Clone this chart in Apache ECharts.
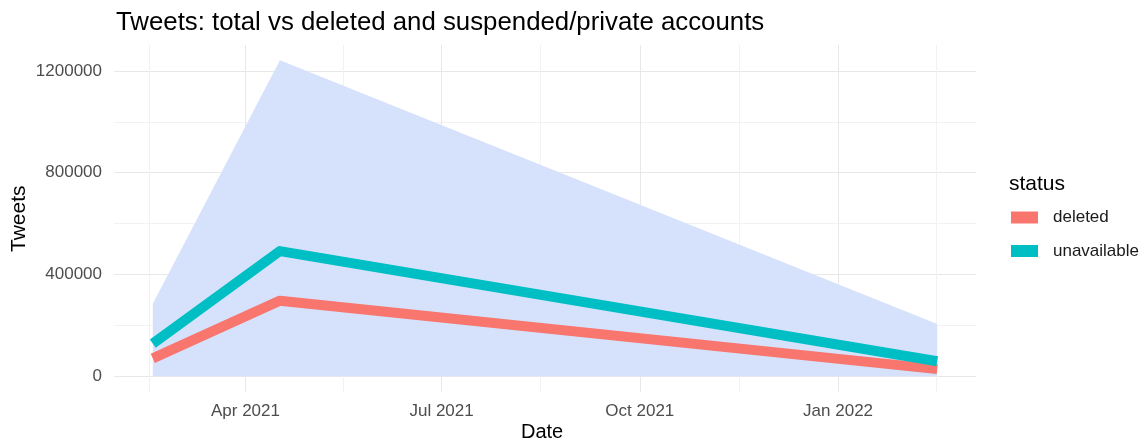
<!DOCTYPE html>
<html>
<head>
<meta charset="utf-8">
<script src="https://cdn.jsdelivr.net/npm/echarts@6/dist/echarts.min.js"></script>
<style>html,body{margin:0;padding:0;background:#fff}#c{width:1147px;height:444px}</style>
</head>
<body>
<div id="c"></div>
<script>
// ---- data ----
var dates = ['2021-02-17', '2021-04-17', '2022-02-16'];
var totalTweets = [285000, 1242000, 205000];
var deleted = [70000, 297000, 28000];
var unavailable = [128000, 492000, 59000];
var seriesNames = ['deleted', 'unavailable'];
// ---- axis ticks ----
var xMajorTicks = ['2021-04-01', '2021-07-01', '2021-10-01', '2022-01-01'];
var xMinorTicks = ['2021-02-15 12', '2021-05-16 12', '2021-08-16', '2021-11-16', '2022-02-15 12'];
var xRange = ['2021-01-30', '2022-03-06'];
var yMajorTicks = [0, 400000, 800000, 1200000];
var yMinorTicks = [200000, 600000, 1000000];
var yRange = [-62000, 1302000];

function ts(s) {
  var p = s.split(' ');
  var d = p[0].split('-');
  return Date.UTC(+d[0], +d[1] - 1, +d[2], p[1] ? +p[1] : 0);
}
var months = ['Jan','Feb','Mar','Apr','May','Jun','Jul','Aug','Sep','Oct','Nov','Dec'];
function pairs(vals) { return dates.map(function (d, i) { return [ts(d), vals[i]]; }); }

var xMajorTs = xMajorTicks.map(ts);
var xAllTicks = xMajorTs.concat(xMinorTicks.map(ts)).sort(function (a, b) { return a - b; });
var yAllTicks = yMajorTicks.concat(yMinorTicks).sort(function (a, b) { return a - b; });
var xColors = xAllTicks.map(function (t) { return xMajorTs.indexOf(t) >= 0 ? '#e8e8e8' : '#f2f2f2'; });
var yColors = yAllTicks.map(function (v) { return yMajorTicks.indexOf(v) >= 0 ? '#e8e8e8' : '#f2f2f2'; });

var chart = echarts.init(document.getElementById('c'), null, { renderer: 'canvas' });
var font = 'Liberation Sans, Arial, sans-serif';
var colors = ['#F8766D', '#00BFC4'];

chart.setOption({
  animation: false,
  backgroundColor: '#ffffff',
  textStyle: { fontFamily: font },
  title: [
    { text: 'Tweets: total vs deleted and suspended/private accounts', left: 111, top: 5,
      textStyle: { fontFamily: font, fontSize: 25.8, fontWeight: 'normal', color: '#000' } },
    { text: 'status', left: 1004, top: 169,
      textStyle: { fontFamily: font, fontSize: 21, fontWeight: 'normal', color: '#000' } }
  ],
  legend: {
    data: seriesNames,
    orient: 'vertical', left: 1006, top: 202.5,
    icon: 'rect', itemWidth: 27, itemHeight: 12, itemGap: 13.5,
    textStyle: { fontFamily: font, fontSize: 17, lineHeight: 12, color: '#1a1a1a', padding: [8, 0, 0, 10] }
  },
  grid: { left: 114, right: 171, top: 45, bottom: 52, containLabel: false },
  xAxis: {
    type: 'value',
    min: ts(xRange[0]), max: ts(xRange[1]),
    axisLine: { show: false },
    axisTick: { show: false, customValues: xAllTicks },
    axisLabel: {
      customValues: xMajorTs,
      margin: 11, fontSize: 17, color: '#4d4d4d', fontFamily: font,
      formatter: function (v) { var d = new Date(v); return months[d.getUTCMonth()] + ' ' + d.getUTCFullYear(); }
    },
    splitLine: { show: true, lineStyle: { color: xColors, width: 1 } }
  },
  yAxis: {
    type: 'value',
    min: yRange[0], max: yRange[1],
    axisLine: { show: false },
    axisTick: { show: false, customValues: yAllTicks },
    axisLabel: { customValues: yMajorTicks, margin: 12, fontSize: 17, color: '#4d4d4d', fontFamily: font,
      formatter: function (v) { return String(v); } },
    splitLine: { show: true, lineStyle: { color: yColors, width: 1 } }
  },
  graphic: [
    { type: 'text', left: 521, top: 422, style: { text: 'Date', fontFamily: font, fontSize: 20, fill: '#000' } },
    { type: 'text', x: 9, y: 252, rotation: Math.PI / 2, style: { text: 'Tweets', fontFamily: font, fontSize: 21, fill: '#000' } }
  ],
  series: [
    {
      name: 'total', type: 'line', data: pairs(totalTweets), showSymbol: false, silent: true,
      lineStyle: { width: 0 }, areaStyle: { color: '#d6e2fc', opacity: 1, origin: 0 }, z: 1
    },
    {
      name: seriesNames[0], type: 'line', data: pairs(deleted), showSymbol: false, color: colors[0],
      lineStyle: { width: 10, cap: 'butt', join: 'round', color: colors[0] }, z: 2
    },
    {
      name: seriesNames[1], type: 'line', data: pairs(unavailable), showSymbol: false, color: colors[1],
      lineStyle: { width: 10, cap: 'butt', join: 'round', color: colors[1] }, z: 3
    }
  ]
});
</script>
</body>
</html>
